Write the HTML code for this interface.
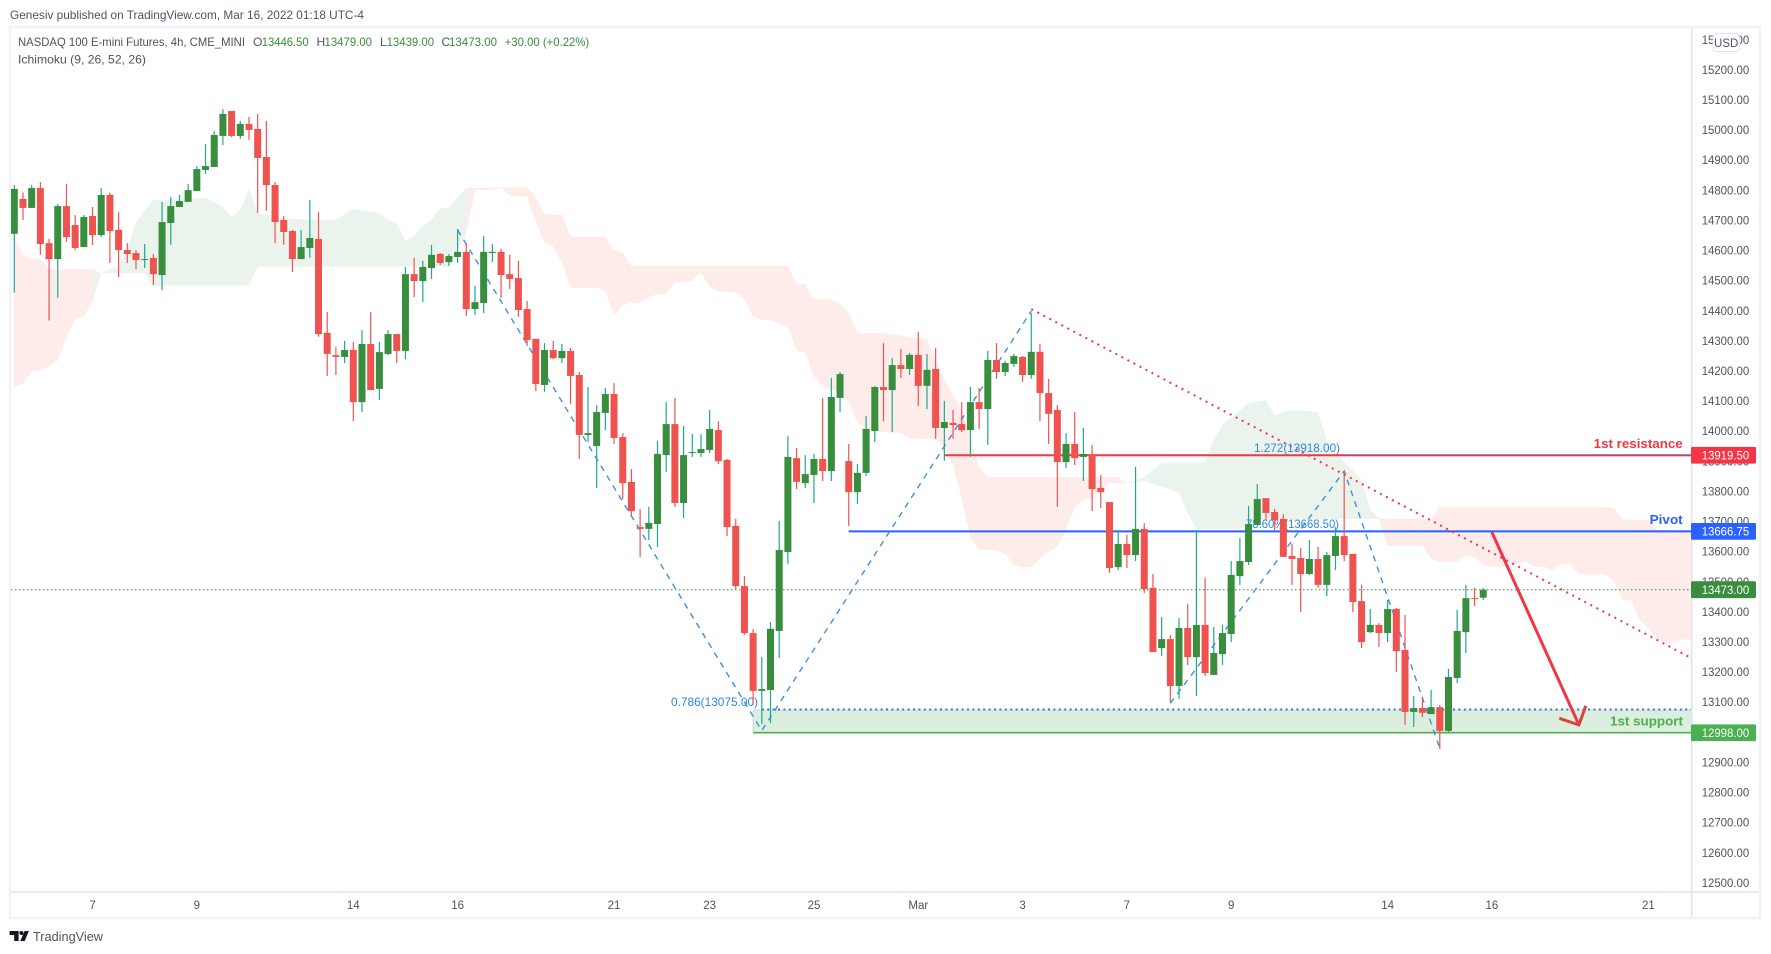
<!DOCTYPE html>
<html lang="en">
<head>
<meta charset="utf-8">
<title>NASDAQ 100 E-mini Futures 4h chart</title>
<style>
html,body{margin:0;padding:0;background:#fff;width:1771px;height:954px;overflow:hidden}
svg{display:block;font-family:"Liberation Sans",Arial,sans-serif}
</style>
</head>
<body>
<svg id="chart" xmlns="http://www.w3.org/2000/svg" width="1771" height="954" viewBox="0 0 1771 954">
  <defs><clipPath id="plot-clip"><rect x="11" y="28" width="1680.5" height="863.5"/></clipPath></defs>
  <rect x="0" y="0" width="1771" height="954" fill="#ffffff"/>
  <text x="10" y="19" font-size="12" fill="#50535e" textLength="354" lengthAdjust="spacingAndGlyphs">Genesiv published on TradingView.com, Mar 16, 2022 01:18 UTC-4</text>
  <rect x="10" y="27" width="1750" height="891" fill="#ffffff" stroke="#f0f3fa" stroke-width="2.5"/>

  <g id="plot" clip-path="url(#plot-clip)">
    <g id="cloud-layer"></g>
    <g id="drawing-layer"></g>
    <g font-size="12" fill="#2f86e0">
      <text x="671" y="706" textLength="87" lengthAdjust="spacingAndGlyphs">0.786(13075.00)</text>
      <text x="1254" y="452" textLength="86" lengthAdjust="spacingAndGlyphs">1.272(13918.00)</text>
      <text x="1246" y="528" textLength="93" lengthAdjust="spacingAndGlyphs">78.60%(13668.50)</text>
    </g>
    <g id="candle-layer"></g>
    <g id="arrow-layer"></g>
    <text x="1682.7" y="448" text-anchor="end" font-size="13" font-weight="bold" fill="#f23645" textLength="89" lengthAdjust="spacingAndGlyphs">1st resistance</text>
    <text x="1682.7" y="524" text-anchor="end" font-size="13" font-weight="bold" fill="#2962ff" textLength="33" lengthAdjust="spacingAndGlyphs">Pivot</text>
    <text x="1683" y="725.5" text-anchor="end" font-size="13" font-weight="bold" fill="#4caf50" textLength="73" lengthAdjust="spacingAndGlyphs">1st support</text>
  </g>

  <g font-size="12">
    <text x="18" y="46" fill="#50535e" textLength="227" lengthAdjust="spacingAndGlyphs">NASDAQ 100 E-mini Futures, 4h, CME_MINI</text>
    <text x="253" y="46" fill="#50535e">O</text>
    <text x="261.7" y="46" fill="#388e3c" textLength="47" lengthAdjust="spacingAndGlyphs">13446.50</text>
    <text x="316.5" y="46" fill="#50535e">H</text>
    <text x="324.5" y="46" fill="#388e3c" textLength="47.5" lengthAdjust="spacingAndGlyphs">13479.00</text>
    <text x="380" y="46" fill="#50535e">L</text>
    <text x="386.6" y="46" fill="#388e3c" textLength="47.5" lengthAdjust="spacingAndGlyphs">13439.00</text>
    <text x="441.5" y="46" fill="#50535e">C</text>
    <text x="449" y="46" fill="#388e3c" textLength="48" lengthAdjust="spacingAndGlyphs">13473.00</text>
    <text x="504.7" y="46" fill="#388e3c" textLength="84.5" lengthAdjust="spacingAndGlyphs">+30.00 (+0.22%)</text>
    <text x="18" y="63.5" fill="#50535e" textLength="128" lengthAdjust="spacingAndGlyphs">Ichimoku (9, 26, 52, 26)</text>
  </g>

  <line x1="1691.7" y1="28" x2="1691.7" y2="917" stroke="#e0e3eb" stroke-width="1.5"/>
  <line x1="11" y1="892" x2="1759" y2="892" stroke="#e0e3eb" stroke-width="1.5"/>
  <g id="y-axis"></g>
  <g id="x-axis"></g>
  <g id="tag-layer"></g>

  <g>
    <rect x="1713" y="33.5" width="26.5" height="18" rx="4" fill="#ffffff" stroke="#e0e3eb"/>
    <text x="1726.2" y="47" text-anchor="middle" font-size="11.5" fill="#50535e">USD</text>
  </g>

  <g>
    <path d="M9.6 931h9v10h-4.4v-6h-4.6z" fill="#131722"/>
    <circle cx="21.4" cy="933" r="2" fill="#131722"/>
    <path d="M24.6 931h4.3l-4.2 10h-4.4z" fill="#131722"/>
    <text x="33" y="941" font-size="13" fill="#50535e" textLength="70" lengthAdjust="spacingAndGlyphs">TradingView</text>
  </g>
</svg>

<script>
// ---- Candles: open / high / low / close per 4h bar ----
const opens = [
14655,14771,14741,14807,14624,14571,14747,14684,14611,14714,
14651,14784,14668,14601,14591,14568,14575,14518,14691,14744,
14761,14797,14867,14877,14980,15063,14980,15020,15003,14910,
14817,14701,14664,14571,14608,14638,14326,14252,14246,14269,
14096,14289,14140,14256,14322,14266,14521,14498,14541,14588,
14561,14578,14595,14405,14425,14591,14595,14521,14508,14405,
14306,14153,14269,14242,14266,14186,13987,13950,14060,14123,
13980,13831,13681,13675,13691,13920,14023,13761,13927,13927,
13937,14003,13904,13685,13485,13329,13137,13140,13336,13598,
13910,13827,13854,13907,13867,14110,13900,13797,13861,14000,
14146,14136,14219,14206,14253,14150,14206,14010,14027,14023,
14003,14096,14073,14236,14196,14223,14246,14186,14263,14126,
14070,13897,13957,13914,13920,13811,13764,13548,13625,13588,
13675,13479,13279,13309,13153,13346,13249,13356,13190,13259,
13326,13518,13565,13688,13777,13731,13708,13585,13578,13525,
13575,13489,13585,13651,13592,13435,13332,13356,13329,13409,
13273,13067,13080,13060,13083,13004,13180,13332,13445,13446.5];
const highs = [
14817,14792,14817,14827,14638,14754,14821,14717,14717,14744,
14807,14792,14727,14624,14601,14621,14588,14761,14777,14784,
14820,14880,14953,14996,15069,15063,15030,15043,15053,15030,
14827,14714,14668,14668,14767,14727,14395,14279,14299,14296,
14335,14395,14296,14335,14322,14545,14575,14565,14618,14591,
14588,14671,14624,14482,14648,14621,14605,14585,14565,14432,
14306,14292,14299,14289,14276,14196,14146,14086,14143,14159,
13993,13874,13741,13748,13967,14096,14110,14017,13990,13990,
14070,14033,13907,13708,13518,13343,13250,13366,13701,13983,
13944,13920,13924,14110,14176,14196,13957,13890,14050,14149,
14292,14243,14272,14259,14329,14256,14276,14100,14070,14096,
14146,14143,14266,14292,14233,14256,14249,14392,14289,14173,
14086,13993,14063,14010,13954,13854,13764,13671,13655,13881,
13694,13525,13382,13322,13379,13425,13671,13512,13349,13356,
13568,13645,13751,13824,13777,13741,13724,13625,13611,13638,
13615,13598,13681,13867,13592,13489,13409,13362,13439,13412,
13389,13120,13117,13140,13090,13210,13406,13489,13479,13479];
const lows = [
14459,14701,14741,14585,14367,14443,14628,14601,14611,14618,
14644,14558,14511,14558,14538,14541,14485,14468,14618,14744,
14761,14797,14854,14877,14950,14976,14970,14967,14724,14731,
14624,14618,14528,14571,14575,14313,14183,14186,14226,14033,
14063,14136,14103,14252,14226,14239,14445,14428,14505,14551,
14548,14558,14382,14385,14392,14561,14442,14472,14379,14282,
14133,14130,14239,14226,14090,13907,13963,13811,14003,13957,
13774,13718,13582,13638,13615,13864,13748,13711,13914,13914,
13927,13890,13651,13475,13323,13090,13027,13030,13246,13558,
13807,13811,13761,13834,13834,14063,13685,13758,13851,13963,
14033,13997,14176,14186,14083,14073,13974,13901,13974,13997,
13914,14007,13954,14173,14183,14213,14163,14173,14033,13957,
13748,13877,13887,13834,13734,13744,13529,13538,13545,13568,
13462,13266,13253,13100,13110,13223,13120,13186,13190,13223,
13299,13489,13555,13688,13704,13671,13582,13489,13399,13522,
13479,13452,13538,13568,13399,13279,13329,13283,13299,13200,
13024,13017,13050,13060,12944,13000,13163,13263,13419,13439];
const closes = [
14804,14741,14807,14621,14571,14747,14644,14608,14711,14651,
14784,14664,14601,14588,14568,14571,14521,14694,14747,14764,
14800,14870,14880,14983,15053,14980,15020,15000,14907,14817,
14694,14661,14571,14611,14641,14322,14256,14246,14269,14096,
14289,14136,14262,14322,14266,14521,14498,14545,14585,14558,
14581,14595,14405,14428,14595,14595,14518,14505,14402,14302,
14156,14269,14242,14266,14183,13987,13993,14063,14123,13977,
13827,13734,13675,13695,13924,14023,13761,13920,13930,13940,
14007,13900,13681,13485,13329,13137,13143,13343,13605,13914,
13831,13857,13907,13867,14113,14189,13797,13861,14007,14146,
14136,14219,14206,14253,14150,14203,14010,14030,14020,14003,
14096,14073,14236,14196,14226,14249,14186,14263,14126,14057,
13897,13957,13910,13924,13807,13797,13545,13625,13588,13675,
13475,13266,13309,13153,13346,13249,13356,13196,13263,13329,
13522,13568,13691,13774,13728,13704,13582,13575,13525,13575,
13489,13588,13651,13588,13432,13299,13356,13329,13409,13269,
13067,13080,13064,13083,13004,13183,13336,13445,13442,13473];

// ---- Ichimoku cloud outlines as [bar, price] ----
const redCloud1Upper = [[0,14645],[1,14585],[2,14571],[3,14571],[4,14538],[9,14538]];
const redCloud1Lower = [[0,14147],[1,14156],[2,14197],[3,14200],[4,14214],[5,14236],[6,14313],[7,14372],[8,14380],[9,14430]];
const greenCloud1Upper = [[9,14538],[10,14524],[11,14539],[12,14541],[13,14608],[14,14691],[15,14734],[16,14767],[22,14775],[24,14745],[25,14710],[26,14734],[27,14804],[28,14723],[31,14706],[34,14701],[37,14701],[39,14737],[42,14723],[43,14701],[44,14690],[45,14631],[46,14648],[47,14684],[48,14701],[49,14740],[50,14742],[52,14807]];
const greenCloud1Lower = [[9,14430],[10,14524],[15,14524],[16,14483],[27,14483],[28,14546],[50,14546],[51,14601],[52,14658]];
const redCloud2Upper = [[52,14807],[59,14810],[60,14777],[61,14721],[63,14717],[64,14645],[68,14645],[69,14599],[70,14592],[71,14548],[89,14548],[90,14488],[91,14488],[92,14438],[94,14438],[95,14422],[96,14392],[97,14325],[100,14325],[105,14305],[106,14230],[107,14169],[109,14070],[110,13977],[111,13881],[112,13847],[127,13847],[128,13826]];
const redCloud2Lower = [[52,14658],[53,14800],[55,14800],[56,14807],[57,14781],[59,14778],[60,14694],[61,14623],[62,14614],[63,14559],[64,14476],[67,14476],[68,14465],[69,14382],[70,14418],[71,14426],[72,14426],[73,14444],[74,14454],[75,14454],[76,14494],[78,14497],[79,14527],[80,14477],[81,14463],[83,14462],[84,14437],[85,14383],[86,14369],[87,14368],[89,14346],[90,14267],[91,14261],[92,14180],[93,14147],[95,14125],[96,14097],[97,14028],[98,14007],[100,13996],[102,13994],[103,13976],[106,13973],[107,13944],[108,13887],[109,13771],[110,13648],[111,13605],[113,13605],[114,13592],[115,13555],[116,13548],[117,13548],[118,13578],[119,13598],[120,13615],[121,13671],[122,13744],[123,13774],[124,13777],[126,13827],[128,13826]];
const greenCloud2Upper = [[128,13826],[129,13837],[130,13847],[132,13894],[137,13895],[138,13970],[139,14020],[142,14092],[144,14103],[145,14053],[147,14070],[150,14063],[151,13970],[152,13930],[153,13897],[154,13870],[155,13837],[156,13738],[157,13708]];
const greenCloud2Lower = [[128,13826],[130,13834],[134,13796],[135,13728],[136,13675],[141,13675],[143,13704],[157,13708]];
const redCloud3Upper = [[157,13708],[163,13708],[164,13747],[184,13747],[185,13707],[188,13704],[189,13671],[193,13669],[195,13669]];
const redCloud3Lower = [[157,13708],[158,13619],[162,13619],[163,13574],[164,13566],[166,13566],[167,13588],[168,13581],[169,13555],[171,13547],[174,13566],[175,13549],[176,13549],[177,13538],[178,13558],[179,13558],[180,13524],[183,13524],[184,13505],[185,13439],[186,13439],[187,13372],[188,13345],[189,13306],[190,13297],[191,13297],[192,13308],[195,13308]];

// ---- Axis ticks ----
const priceTicks = [15300,15200,15100,15000,14900,14800,14700,14600,14500,14400,14300,14200,14100,14000,13900,13800,13700,13600,13500,13400,13300,13200,13100,13000,12900,12800,12700,12600,12500];
const timeTickLabels = ["7","9","14","16","21","23","25","Mar","3","7","9","14","16","21"];
const timeTickBars = [9,21,39,51,69,80,92,104,116,128,140,158,170,188];

// ---- Drawings in chart units ----
const zigzag1Bars = [51,86,117];
const zigzag1Prices = [14668,13005,14399];
const zigzag2Bars = [133,153,164];
const zigzag2Prices = [13096,13867,12946];
const trendBars = [117,193];
const trendPrices = [14405,13245];
const arrowBars = [170,180];
const arrowPrices = [13664,13024];
const arrowHeadBars = [177.75,180,180.8];
const arrowHeadPrices = [13046,13024,13087];
const resistanceLevel = 13919.5;
const resistanceStartBar = 107;
const pivotLevel = 13666.75;
const pivotStartBar = 96;
const fib1272Level = 13918;
const fib786UpperLevel = 13668.5;
const fibUpperStartBar = 153;
const supportTop = 13073;
const fib786LowerLevel = 13075;
const fibLowerStartBar = 86;
const supportBottom = 12998;
const supportStartBar = 85;
const lastPrice = 13473;
const lastBarForAxis = 193.2;
const tagPrices = [13919.5,13666.75,13473,12998];
const tagColors = ["#f23645","#2962ff","#388e3c","#4caf50"];

// ---- Scales ----
const xOf = function(bar){ return 14.3 + bar * 8.692; };
const yOf = function(price){ return 69.7 + (15200 - price) * 0.3011; };

const NS = 'http://www.w3.org/2000/svg';
function mk(tag, parent, props){
  const e = document.createElementNS(NS, tag);
  for (const k in props) e.setAttribute(k, props[k]);
  parent.appendChild(e);
  return e;
}
function pts(list){
  return list.map(function(p){ return xOf(p[0]).toFixed(1) + ',' + yOf(p[1]).toFixed(1); }).join(' ');
}
function pairPts(bars, prices){
  return bars.map(function(b, i){ return xOf(b).toFixed(1) + ',' + yOf(prices[i]).toFixed(1); }).join(' ');
}

// ---- Cloud ----
const cloudLayer = document.getElementById('cloud-layer');
function cloud(upper, lower, fill, name){
  const poly = mk('polygon', cloudLayer, {points: pts(upper) + ' ' + pts(lower.slice().reverse()), fill: fill});
  
  
}
cloud(redCloud1Upper, redCloud1Lower, '#feecea', 'cloud-bearish-1');
cloud(greenCloud1Upper, greenCloud1Lower, '#ebf4ec', 'cloud-bullish-1');
cloud(redCloud2Upper, redCloud2Lower, '#feecea', 'cloud-bearish-2');
cloud(greenCloud2Upper, greenCloud2Lower, '#ebf4ec', 'cloud-bullish-2');
cloud(redCloud3Upper, redCloud3Lower, '#feecea', 'cloud-bearish-3');

// ---- Drawings ----
const dl = document.getElementById('drawing-layer');
const axisRight = xOf(lastBarForAxis);

const zone = mk('rect', dl, {x: xOf(supportStartBar), y: yOf(supportTop), width: axisRight - xOf(supportStartBar), height: yOf(supportBottom) - yOf(supportTop), fill: '#dceedd', stroke: '#d3d6dc', 'stroke-width': 1});



const supLine = mk('line', dl, {x1: xOf(supportStartBar), x2: axisRight, y1: yOf(supportBottom), y2: yOf(supportBottom), stroke: '#4caf50', 'stroke-width': 1.6});



const fibLow = mk('line', dl, {x1: xOf(fibLowerStartBar), x2: axisRight, y1: yOf(fib786LowerLevel), y2: yOf(fib786LowerLevel), stroke: '#2a78dc', 'stroke-width': 2, 'stroke-dasharray': '2 3.4'});



const resLine = mk('line', dl, {x1: xOf(resistanceStartBar), x2: axisRight, y1: yOf(resistanceLevel), y2: yOf(resistanceLevel), stroke: '#f23645', 'stroke-width': 2});



const fibHigh = mk('line', dl, {x1: xOf(fibUpperStartBar), x2: axisRight, y1: yOf(fib1272Level), y2: yOf(fib1272Level), stroke: '#2a78dc', 'stroke-width': 1.2, 'stroke-dasharray': '2 2'});



const fibMid = mk('line', dl, {x1: xOf(fibUpperStartBar), x2: axisRight, y1: yOf(fib786UpperLevel), y2: yOf(fib786UpperLevel), stroke: '#2a78dc', 'stroke-width': 1, 'stroke-dasharray': '2 2'});



const pivLine = mk('line', dl, {x1: xOf(pivotStartBar), x2: axisRight, y1: yOf(pivotLevel), y2: yOf(pivotLevel), stroke: '#2962ff', 'stroke-width': 2});



const lastLine = mk('line', dl, {x1: 11, x2: axisRight, y1: yOf(lastPrice), y2: yOf(lastPrice), stroke: '#388e3c', 'stroke-width': 1, 'stroke-dasharray': '1.5 2.5'});



const zz1 = mk('polyline', dl, {points: pairPts(zigzag1Bars, zigzag1Prices), fill: 'none', stroke: '#3d8fe6', 'stroke-width': 1.4, 'stroke-dasharray': '6 5.5'});



const zz2 = mk('polyline', dl, {points: pairPts(zigzag2Bars, zigzag2Prices), fill: 'none', stroke: '#3d8fe6', 'stroke-width': 1.4, 'stroke-dasharray': '6 5.5'});



const trend = mk('polyline', dl, {points: pairPts(trendBars, trendPrices), fill: 'none', stroke: '#f23645', 'stroke-width': 2, 'stroke-dasharray': '2 4.8'});



// ---- Candles ----
const candleLayer = document.getElementById('candle-layer');
opens.forEach(function(o, i){
  const c = closes[i];
  const up = c >= o;
  const x = xOf(i);
  const g = mk('g', candleLayer, {});
  
  
  const wick = mk('line', g, {x1: x, x2: x, y1: yOf(highs[i]), y2: yOf(lows[i]), stroke: up ? '#1ea890' : '#ef5350', 'stroke-width': 1.2});
  
  
  const top = yOf(Math.max(o, c));
  const h = Math.max(yOf(Math.min(o, c)) - top, 1);
  const body = mk('rect', g, {x: x - 3.5, y: top, width: 7, height: h, fill: up ? '#388e3c' : '#ef5350'});
  
  
});

// ---- Forecast arrow ----
const arrowLayer = document.getElementById('arrow-layer');
const shaft = mk('polyline', arrowLayer, {points: pairPts(arrowBars, arrowPrices), fill: 'none', stroke: '#f23645', 'stroke-width': 3});


const head = mk('polyline', arrowLayer, {points: pairPts(arrowHeadBars, arrowHeadPrices), fill: 'none', stroke: '#d8453f', 'stroke-width': 3});



// ---- Axes ----
const yAxis = document.getElementById('y-axis');
priceTicks.forEach(function(p){
  const t = mk('text', yAxis, {x: 1701.7, y: yOf(p) + 4.2, 'font-size': 11.5, fill: '#50535e', textLength: 47.5, lengthAdjust: 'spacingAndGlyphs'});
  t.textContent = p.toFixed(2);
  
  
});
const xAxis = document.getElementById('x-axis');
timeTickLabels.forEach(function(label, i){
  const t = mk('text', xAxis, {x: xOf(timeTickBars[i]), y: 909, 'font-size': 11.5, fill: '#50535e', 'text-anchor': 'middle'});
  t.textContent = label;
  
  
});

// ---- Price tags ----
const tagLayer = document.getElementById('tag-layer');
tagPrices.forEach(function(p, i){
  const y = yOf(p);
  const r = mk('rect', tagLayer, {x: 1691, y: y - 8.4, width: 65, height: 16.8, rx: 1.5, fill: tagColors[i]});
  
  
  const t = mk('text', tagLayer, {x: 1701.7, y: y + 4.2, 'font-size': 11.5, fill: '#ffffff', textLength: 47.5, lengthAdjust: 'spacingAndGlyphs'});
  t.textContent = p.toFixed(2);
  
  
});
</script>
</body>
</html>
